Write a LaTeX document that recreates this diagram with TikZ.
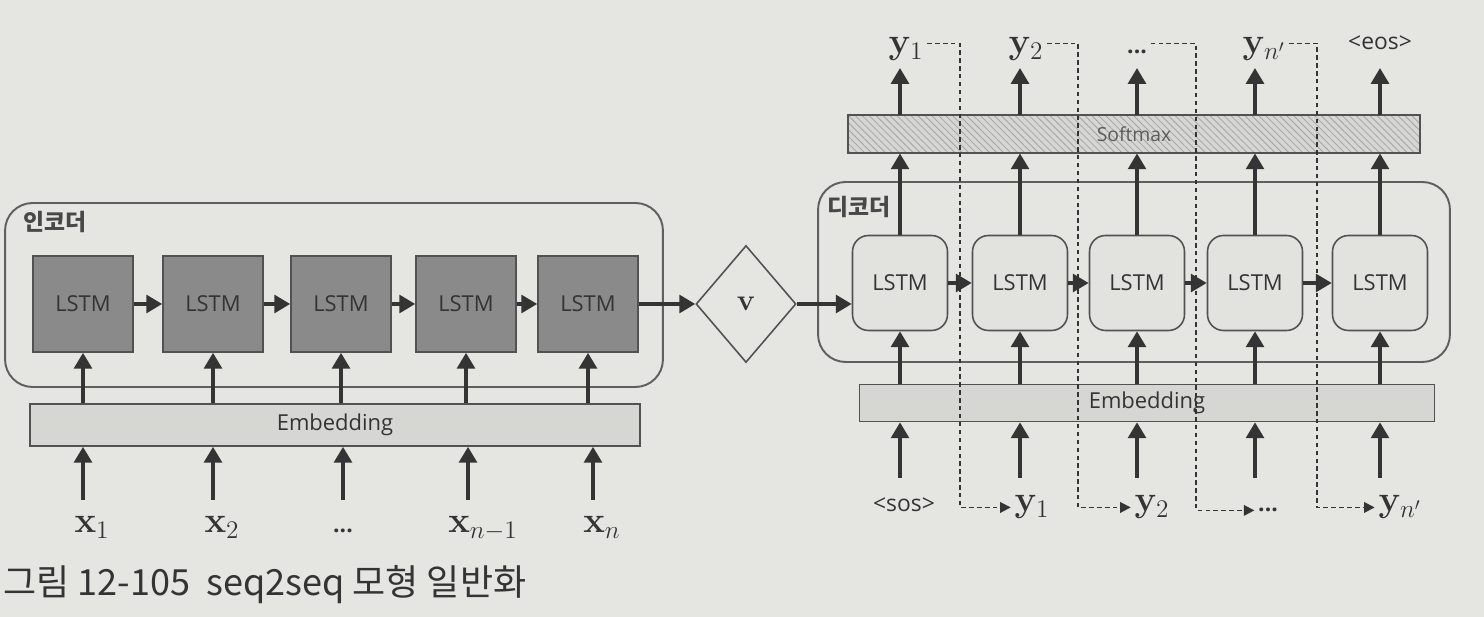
\documentclass[tikz,border=0pt]{standalone}
\usepackage[no-math]{fontspec}
\setmainfont{Open Sans}
\newfontfamily\kr{Noto Sans CJK KR}
\usetikzlibrary{arrows.meta,patterns.meta,shapes.geometric}
\definecolor{bgc}{RGB}{229,229,226}
\definecolor{ink}{RGB}{52,52,52}
\definecolor{encfill}{RGB}{138,138,138}
\definecolor{embfill}{RGB}{214,214,211}
\definecolor{decfill}{RGB}{226,226,223}
\definecolor{frame}{RGB}{95,95,95}
\begin{document}
\begin{tikzpicture}[x=0.02cm,y=-0.02cm,
  outerbox/.style={draw=frame,line width=1.1pt,rounded corners=0.55cm,inner sep=0pt},
  encbox/.style={draw=ink!85,line width=0.9pt,fill=encfill,minimum width=2cm,minimum height=1.92cm,inner sep=0pt,font=\fontsize{12.5}{14}\selectfont,text=ink},
  decbox/.style={draw=ink!85,line width=0.9pt,fill=decfill,rounded corners=0.32cm,minimum width=1.9cm,minimum height=1.9cm,inner sep=0pt,font=\fontsize{12.5}{14}\selectfont,text=ink},
  barbox/.style={draw=ink!85,line width=0.9pt,fill=embfill,inner sep=0pt,font=\fontsize{12.5}{14}\selectfont,text=ink},
  arr/.style={draw=ink,line width=2.2pt,-{Triangle[length=9pt,width=10pt]}},
  fb/.style={draw=ink,line width=1pt,dash pattern=on 2.5pt off 2pt,-{Triangle[length=6pt,width=6pt]}},
  lab/.style={font=\fontsize{20}{24}\selectfont,text=ink,anchor=base,inner sep=2pt},
  dots/.style={font=\bfseries\fontsize{13}{15}\selectfont,text=ink,anchor=base,inner sep=2pt},
  tag/.style={font=\fontsize{13}{15}\selectfont,text=ink,anchor=base,inner sep=2pt},
  grp/.style={font=\kr\bfseries\fontsize{13}{15}\selectfont,text=ink!90,anchor=west,inner sep=0pt}
]
\useasboundingbox (0,0) rectangle (1484,617);
\fill[bgc] (0,0) rectangle (1484,617);

% ---------------- encoder ----------------
\node[outerbox,minimum width=13.16cm,minimum height=3.68cm] (enc) at (334,295) {};
\node[grp] (enclab) at (23,222) {인코더};
\node[encbox] (e1) at (83,304) {LSTM};
\node[encbox] (e2) at (213,304) {LSTM};
\node[encbox] (e3) at (341,304) {LSTM};
\node[encbox] (e4) at (466,304) {LSTM};
\node[encbox] (e5) at (588,304) {LSTM};
\node[barbox,minimum width=12.2cm,minimum height=0.84cm] (eemb) at (335,425) {Embedding};
\foreach \a/\b in {e1/e2,e2/e3,e3/e4,e4/e5}{\draw[arr] (\a.east) -- (\b.west);}
\foreach \a in {e1,e2,e3,e4,e5}{\draw[arr] (\a.south |- eemb.north) -- (\a.south);}
\coordinate (a1) at (83,500);
\coordinate (a2) at (213,500);
\coordinate (a3) at (343,500);
\coordinate (a4) at (468,500);
\coordinate (a5) at (593,500);
\foreach \a in {a1,a2,a3,a4,a5}{\draw[arr] (\a) -- (\a |- eemb.south);}
\node[lab] (x1) at (92,533) {$\mathbf{x}_1$};
\node[lab] (x2) at (222,533) {$\mathbf{x}_2$};
\node[dots] (x3) at (343,533) {...};
\node[lab] (x4) at (483,533) {$\mathbf{x}_{n-1}$};
\node[lab] (x5) at (602,533) {$\mathbf{x}_n$};

% ---------------- context vector ----------------
\node[diamond,draw=ink!85,line width=0.9pt,minimum width=2cm,minimum height=2.34cm,inner sep=0pt,font=\fontsize{16}{18}\selectfont,text=ink] (v) at (746,304) {$\mathbf{v}$};
\draw[arr] (e5.east) -- (v.west);

% ---------------- decoder ----------------
\node[outerbox,minimum width=12.64cm,minimum height=3.6cm] (dec) at (1134,272) {};
\node[grp] (declab) at (827,207) {디코더};
\node[decbox] (d1) at (900,283) {LSTM};
\node[decbox] (d2) at (1020,283) {LSTM};
\node[decbox] (d3) at (1137,283) {LSTM};
\node[decbox] (d4) at (1255,283) {LSTM};
\node[decbox] (d5) at (1380,283) {LSTM};
\node[barbox,minimum width=11.44cm,minimum height=0.76cm,preaction={fill=embfill},pattern={Lines[angle=-45,distance=2.8pt,line width=0.45pt]},pattern color=ink!45,font=\fontsize{11}{13}\selectfont,text=ink!80] (sm) at (1134,134) {Softmax};
\node[barbox,minimum width=11.5cm,minimum height=0.74cm] (dem) at (1147,403) {Embedding};
\draw[arr] (v.east) -- (v.east -| d1.west);
\foreach \a/\b in {d1/d2,d2/d3,d3/d4,d4/d5}{\draw[arr] (\a.east) -- (\b.west);}
\foreach \a in {d1,d2,d3,d4,d5}{
  \draw[arr] (\a.north) -- (\a.north |- sm.south);
  \draw[arr] (\a.south |- dem.north) -- (\a.south);
}
\coordinate (t1) at (900,68);
\coordinate (t2) at (1020,68);
\coordinate (t3) at (1137,68);
\coordinate (t4) at (1255,68);
\coordinate (t5) at (1380,68);
\foreach \a in {t1,t2,t3,t4,t5}{\draw[arr] (\a |- sm.north) -- (\a);}
\node[lab] (o1) at (906,54) {$\mathbf{y}_1$};
\node[lab] (o2) at (1026,54) {$\mathbf{y}_2$};
\node[dots] (o3) at (1137,54) {...};
\node[lab] (o4) at (1264,54) {$\mathbf{y}_{n'}$};
\node[tag] (o5) at (1380,50) {<eos>};

\coordinate (b1) at (900,478);
\coordinate (b2) at (1020,478);
\coordinate (b3) at (1137,478);
\coordinate (b4) at (1255,478);
\coordinate (b5) at (1380,478);
\foreach \a in {b1,b2,b3,b4,b5}{\draw[arr] (\a) -- (\a |- dem.south);}
\node[tag] (i1) at (904,512) {<sos>};
\node[lab] (i2) at (1032,512) {$\mathbf{y}_1$};
\node[lab] (i3) at (1152,512) {$\mathbf{y}_2$};
\node[dots] (i4) at (1268,512) {...};
\node[lab] (i5) at (1400,512) {$\mathbf{y}_{n'}$};

% ---------------- feedback (dashed) ----------------
\coordinate (f1) at (960,0);
\coordinate (f2) at (1078,0);
\coordinate (f3) at (1196,0);
\coordinate (f4) at (1317,0);
\draw[fb] ([yshift=6pt]o1.base east) -| (f1 |- i2.west) -- (i2.west);
\draw[fb] ([yshift=6pt]o2.base east) -| (f2 |- i3.west) -- (i3.west);
\draw[fb] ([yshift=6pt]o3.base east) -| (f3 |- i4.west) -- (i4.west);
\draw[fb] ([yshift=6pt]o4.base east) -| (f4 |- i5.west) -- (i5.west);

% ---------------- caption ----------------
\node[anchor=west,inner sep=0pt,font=\kr\fontsize{20.5}{23}\selectfont,text=ink] (cap) at (3,585) {그림 12-105\ \ seq2seq 모형 일반화};
\end{tikzpicture}
\end{document}
